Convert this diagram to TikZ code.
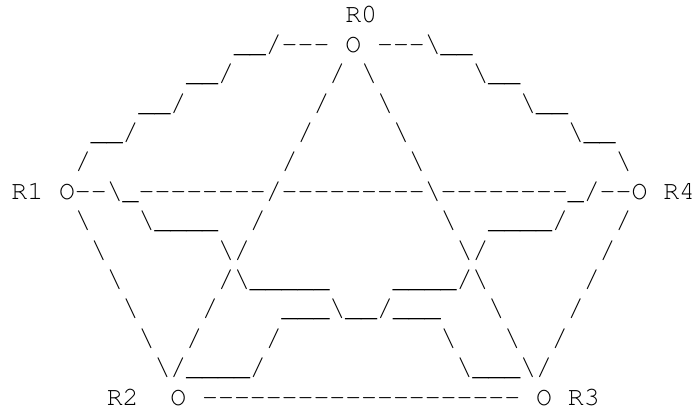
\documentclass[tikz,border=0pt]{standalone}
\usepackage[T1]{fontenc}
\usepackage{tikz}
\newcommand{\artfont}{\fontfamily{pcr}\fontsize{26.5pt}{29.4pt}\selectfont}
\newcommand{\artbs}{\textbackslash}
\newcommand{\artgap}[1]{\kern#1\fontdimen2\font}
\newcommand{\artdash}[1]{\foreach \k in {1,...,#1}{-{}}}

\begin{document}
\begin{tikzpicture}[x=15.9pt,y=-29.4pt,
      art/.style={anchor=base west,inner sep=0pt,outer sep=0pt,font=\artfont}]
    \useasboundingbox (-11.4pt,23pt) rectangle (686.6pt,-388pt);
    \node[art] (l0) at (21,0) {R0};
    \node[art] (l1) at (14,1) {\_\_/\artdash{3}\artgap{1}O\artgap{1}\artdash{3}\artbs\_\_};
    \node[art] (l2) at (11,2) {\_\_/\artgap{6}/\artgap{1}\artbs\artgap{6}\artbs\_\_};
    \node[art] (l3) at (8,3) {\_\_/\artgap{8}/\artgap{3}\artbs\artgap{8}\artbs\_\_};
    \node[art] (l4) at (5,4) {\_\_/\artgap{10}/\artgap{5}\artbs\artgap{10}\artbs\_\_};
    \node[art] (l5) at (4,5) {/\artgap{12}/\artgap{7}\artbs\artgap{12}\artbs};
    \node[art] (l6) at (0,6) {R1\artgap{1}O\artdash{2}\artbs\_\artdash{8}/\artdash{9}\artbs\artdash{8}\_/\artdash{2}O\artgap{1}R4};
    \node[art] (l7) at (4,7) {\artbs\artgap{3}\artbs\_\_\_\_\artgap{2}/\artgap{11}\artbs\artgap{2}\_\_\_\_/\artgap{3}/};
    \node[art] (l8) at (5,8) {\artbs\artgap{7}\artbs/\artgap{13}\artbs/\artgap{7}/};
    \node[art] (l9) at (6,9) {\artbs\artgap{6}/\artbs\_\_\_\_\_\artgap{4}\_\_\_\_/\artbs\artgap{6}/};
    \node[art] (l10) at (7,10) {\artbs\artgap{4}/\artgap{4}\_\_\_\artbs\_\_/\_\_\_\artgap{3}\artbs\artgap{4}/};
    \node[art] (l11) at (8,11) {\artbs\artgap{2}/\artgap{4}/\artgap{10}\artbs\artgap{3}\artbs\artgap{2}/};
    \node[art] (l12) at (9,12) {\artbs/\_\_\_\_/\artgap{12}\artbs\_\_\_\artbs/};
    \node[art] (l13) at (6,13) {R2\artgap{2}O\artgap{1}\artdash{20}\artgap{1}O\artgap{1}R3};
  \end{tikzpicture}
\end{document}
